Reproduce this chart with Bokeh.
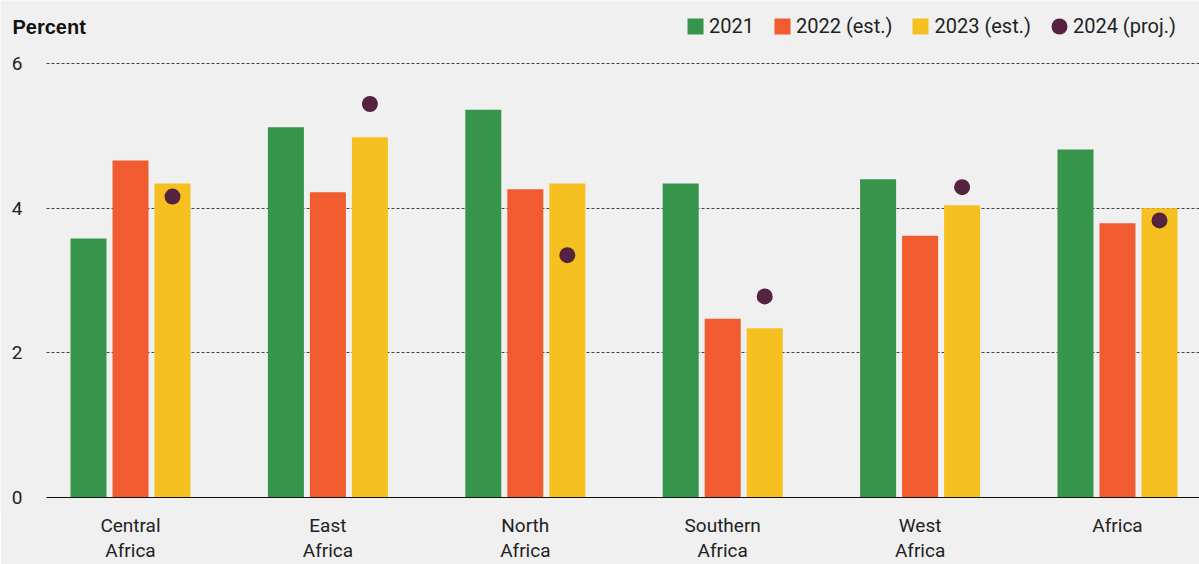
from bokeh.plotting import figure
from bokeh.models import ColumnDataSource, Range1d, FixedTicker, Legend, LegendItem, Grid
from bokeh.transform import dodge
from bokeh.core.properties import value
from bokeh.embed import file_html
from bokeh.resources import INLINE

# ---- data ----
regions = ["Central\nAfrica", "East\nAfrica", "North\nAfrica", "Southern\nAfrica", "West\nAfrica", "Africa"]
g2021 = [3.58, 5.12, 5.36, 4.34, 4.40, 4.81]
g2022 = [4.66, 4.22, 4.26, 2.47, 3.62, 3.79]
g2023 = [4.34, 4.98, 4.34, 2.34, 4.04, 4.00]
g2024 = [4.16, 5.44, 3.35, 2.78, 4.29, 3.83]
y_ticks = [0, 2, 4, 6]
y_tick_labels = ["0", "2", "4", "6"]
series_labels = ["2021", "2022 (est.)", "2023 (est.)", "2024 (proj.)"]
y_title = "Percent"

GREEN = "#36954a"
ORANGE = "#f15b30"
YELLOW = "#f6c021"
PURPLE = "#55223f"
BG = "#f0f0f0"
TXT = "#222222"
FONT = "Roboto"

src = ColumnDataSource(dict(x=list(range(len(regions))), g2021=g2021, g2022=g2022,
                            g2023=g2023, g2024=g2024))
tick_src = ColumnDataSource(dict(y=y_ticks, text=y_tick_labels))

X0, X1 = -0.6586, 5.4154
Y0, Y1 = -0.1244, 6.871
p = figure(width=1199, height=564, x_range=Range1d(X0, X1), y_range=Range1d(Y0, Y1),
           output_backend="svg", toolbar_location=None, title=None, y_axis_location=None,
           min_border=0, min_border_bottom=58,
           background_fill_color=BG, border_fill_color=BG, outline_line_color=None)

PLOT_LEFT = -0.4256

# dashed grid lines
p.xgrid.grid_line_color = None
p.ygrid.ticker = FixedTicker(ticks=[2, 4, 6])
p.ygrid.grid_line_color = "#444444"
p.ygrid.grid_line_dash = "3 2"
p.ygrid.grid_line_width = 1
p.ygrid[0].cross_bounds = (PLOT_LEFT, X1)

OFF = 0.2128
W = 0.1824
r21 = p.vbar(x=dodge("x", -OFF, range=p.x_range), top="g2021", width=W, source=src,
             fill_color=GREEN, line_color=None)
r22 = p.vbar(x=dodge("x", 0, range=p.x_range), top="g2022", width=W, source=src,
             fill_color=ORANGE, line_color=None)
r23 = p.vbar(x=dodge("x", OFF, range=p.x_range), top="g2023", width=W, source=src,
             fill_color=YELLOW, line_color=None)
r24 = p.ellipse(x=dodge("x", OFF, range=p.x_range), y="g2024", width=16, height=16,
                width_units="screen", height_units="screen", source=src,
                fill_color=PURPLE, line_color=None)

# zero baseline (solid, above bars)
zero = Grid(dimension=1, ticker=FixedTicker(ticks=[0]), grid_line_color="#111111",
            grid_line_width=1, level="annotation", cross_bounds=(PLOT_LEFT, X1))
p.add_layout(zero)

# y tick labels
p.text(x=-0.5471, y="y", text="text", source=tick_src, text_align="right",
       text_baseline="middle", text_font=value(FONT), text_font_size="19px", text_color=TXT)
# y title
p.text(x=[-0.5978], y=[6.498], text=[y_title], text_align="left", text_baseline="middle",
       text_font=value("Liberation Sans"), text_font_style="bold", text_font_size="20px",
       text_color="#111111")

# x axis (labels only)
p.xaxis.ticker = FixedTicker(ticks=list(range(len(regions))))
p.xaxis.major_label_overrides = {i: r for i, r in enumerate(regions)}
p.xaxis.axis_line_color = None
p.xaxis.major_tick_line_color = None
p.xaxis.minor_tick_line_color = None
p.xaxis.major_label_standoff = 1
p.xaxis.major_label_text_font = FONT
p.xaxis.major_label_text_font_size = "19px"
p.xaxis.major_label_text_line_height = 1.1
p.xaxis.major_label_text_color = TXT

# legend
leg = Legend(items=[LegendItem(label=series_labels[0], renderers=[r21]),
                    LegendItem(label=series_labels[1], renderers=[r22]),
                    LegendItem(label=series_labels[2], renderers=[r23]),
                    LegendItem(label=series_labels[3], renderers=[r24])],
             orientation="horizontal", location=(685, 468), glyph_width=20, glyph_height=20,
             label_standoff=4, spacing=18, padding=0, margin=0, border_line_color=None,
             background_fill_alpha=0, label_text_font=FONT, label_text_font_size="20px",
             label_text_color=TXT)
p.add_layout(leg)

open("out.html", "w").write(file_html(p, INLINE))
